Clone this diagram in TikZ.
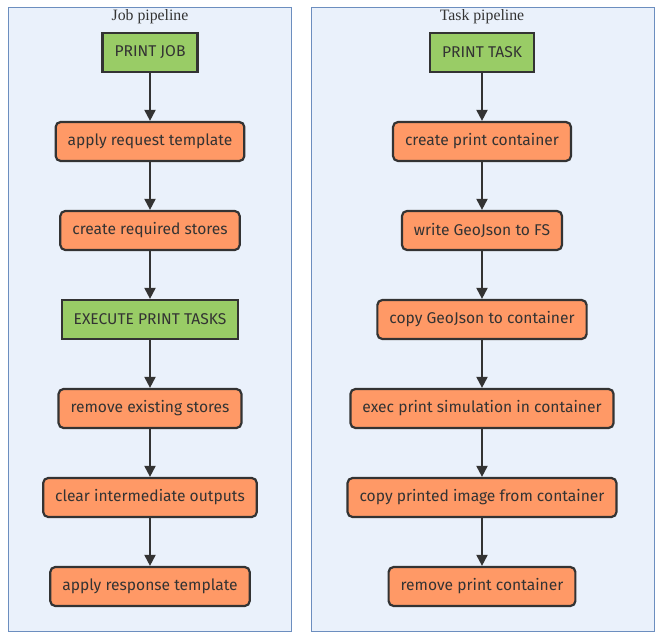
\documentclass[tikz,border=0pt]{standalone}
\usepackage{fontspec}
\setmainfont{Liberation Serif}
\newfontfamily\boxfont{Fira Sans}
\usetikzlibrary{arrows.meta}
\definecolor{clusterfill}{HTML}{EAF1FB}
\definecolor{clusterline}{HTML}{6C8EBF}
\definecolor{stepgreen}{HTML}{99CC66}
\definecolor{steporange}{HTML}{FF9966}
\definecolor{edgegray}{HTML}{333333}
\tikzset{
  cluster/.style={draw=clusterline, fill=clusterfill, line width=1pt},
  cluster title/.style={font=\fontsize{15.8}{18}\selectfont, text=edgegray},
  basebox/.style={draw=edgegray, line width=2.2pt, minimum height=39pt,
    inner xsep=12pt, text=edgegray, font=\boxfont\fontsize{15.6}{18}\selectfont},
  phase/.style={basebox, fill=stepgreen},
  action/.style={basebox, fill=steporange, rounded corners=5pt},
}
\begin{document}
\begin{tikzpicture}[x=1pt, y=-1pt, node distance=89pt, auto,
    >={Triangle[length=11pt, width=11pt]}]
  \useasboundingbox (0,0) rectangle (659,639);
  % the two pipelines
  \draw[cluster] (8,8) rectangle (291,631);
  \draw[cluster] (311,8) rectangle (654,631);
  \node[cluster title] (jobtitle) at (150,17) {Job pipeline};
  \node[cluster title] (tasktitle) at (482,17) {Task pipeline};

  % job pipeline
  \node[phase] (job) at (150,52.5) {PRINT JOB};
  \node[action] (reqtpl) [below of=job] {apply request template};
  \node[action] (stores) [below of=reqtpl] {create required stores};
  \node[phase] (exec) [below of=stores] {EXECUTE PRINT TASKS};
  \node[action] (rmstores) [below of=exec] {remove existing stores};
  \node[action] (clear) [below of=rmstores] {clear intermediate outputs};
  \node[action] (resptpl) [below of=clear] {apply response template};

  % task pipeline
  \node[phase] (task) at (482,52.5) {PRINT TASK};
  \node[action] (mkcont) [below of=task] {create print container};
  \node[action] (geofs) [below of=mkcont] {write GeoJson to FS};
  \node[action] (geocp) [below of=geofs] {copy GeoJson to container};
  \node[action] (sim) [below of=geocp] {exec print simulation in container};
  \node[action] (imgcp) [below of=sim] {copy printed image from container};
  \node[action] (rmcont) [below of=imgcp] {remove print container};

  \begin{scope}[draw=edgegray, line width=2pt]
    \draw[->] (job) -- (reqtpl);
    \draw[->] (reqtpl) -- (stores);
    \draw[->] (stores) -- (exec);
    \draw[->] (exec) -- (rmstores);
    \draw[->] (rmstores) -- (clear);
    \draw[->] (clear) -- (resptpl);
    \draw[->] (task) -- (mkcont);
    \draw[->] (mkcont) -- (geofs);
    \draw[->] (geofs) -- (geocp);
    \draw[->] (geocp) -- (sim);
    \draw[->] (sim) -- (imgcp);
    \draw[->] (imgcp) -- (rmcont);
  \end{scope}
\end{tikzpicture}
\end{document}
